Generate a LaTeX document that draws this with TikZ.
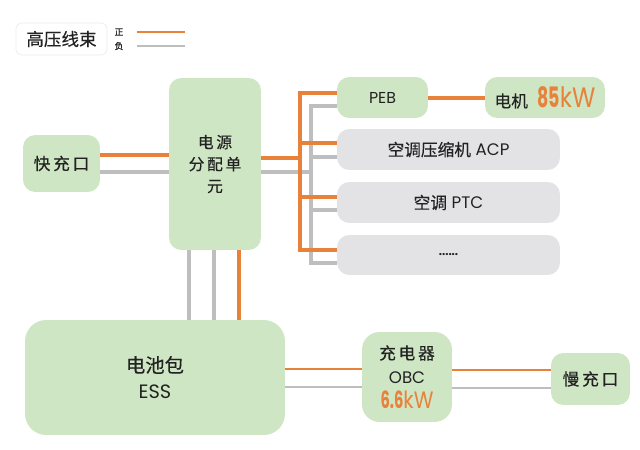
\documentclass[tikz,border=0pt]{standalone}
\usepackage{fontspec}
\usepackage{graphicx}
\setmainfont{Poppins}
\newfontfamily\cjk[FakeBold=0.3]{Noto Sans CJK SC}
\usetikzlibrary{calc}
\definecolor{boxgreen}{HTML}{CFE6C5}
\definecolor{boxgrey}{HTML}{E3E3E5}
\definecolor{wireorange}{HTML}{E8823A}
\definecolor{wiregrey}{HTML}{BEBEC0}
\definecolor{txt}{HTML}{222222}
\newcommand{\zh}[1]{{\cjk #1}}
\newcommand{\power}[3]{{\color{wireorange}\fontsize{#3}{#3}\selectfont\scalebox{0.62}[1]{\bfseries #1}\scalebox{0.85}[1]{#2}}}
\tikzset{
  unit/.style     = {rectangle,rounded corners=7pt,fill=boxgreen,align=center,text=txt,inner sep=0pt,font=\fontsize{9.5}{14}\selectfont},
  load/.style     = {unit,fill=boxgrey},
  legendbox/.style = {rectangle,rounded corners=3pt,draw=gray!15,fill=white,inner sep=0pt,text=txt,font=\fontsize{10}{11}\selectfont},
  poswire/.style  = {wireorange,line width=2.8pt},
  negwire/.style  = {wiregrey,line width=2.3pt},
  posthin/.style  = {wireorange,line width=1.1pt},
  negthin/.style  = {wiregrey,line width=1.1pt},
}

\begin{document}
\begin{tikzpicture}[x=0.02cm,y=-0.02cm]
\useasboundingbox (0,0) rectangle (640,450);

% legend
\node[legendbox,minimum width=1.82cm,minimum height=0.64cm] (legend) at (61.5,39) {\zh{高压线束}};
\node[font=\fontsize{5}{5}\selectfont,text=txt] (plus) at (119,32) {\zh{正}};
\node[font=\fontsize{5}{5}\selectfont,text=txt] (minus) at (119,46) {\zh{负}};
\coordinate (plusend) at (185,32);
\coordinate (minusend) at (185,46);
\draw[wireorange,line width=1.6pt] ([xshift=0.14cm]plus.east) -- (plusend);
\draw[wiregrey,line width=1.6pt] ([xshift=0.14cm]minus.east) -- (minusend);

% units
\node[unit,minimum width=1.54cm,minimum height=1.14cm] (fast) at (61.5,163.5) {\zh{快\,充\,口}};
\node[unit,minimum width=1.84cm,minimum height=3.44cm,font=\fontsize{9}{12.5}\selectfont] (pdu) at (215,164) {\zh{电\,源}\\\zh{分\,配\,单}\\\zh{元}};
\node[unit,minimum width=1.82cm,minimum height=0.82cm,font=\fontsize{9}{11}\selectfont] (peb) at (382.5,97.5) {PEB};
\node[unit,minimum width=2.4cm,minimum height=0.82cm] (motor) at (545,97.5) {\zh{电机}\;\;\power{85}{kW}{16}};
\node[load,minimum width=4.46cm,minimum height=0.82cm] (acp) at (448.5,149.5) {\zh{空调压缩机}\;ACP};
\node[load,minimum width=4.46cm,minimum height=0.82cm] (ptc) at (448.5,202.5) {\zh{空调}\;PTC};
\node[load,minimum width=4.46cm,minimum height=0.8cm,font=\bfseries\fontsize{6.5}{8}\selectfont] (etc) at (448.5,255) {......};
\node[unit,rounded corners=12pt,minimum width=5.2cm,minimum height=2.3cm,font=\fontsize{11}{15}\selectfont] (ess) at (155,377.5) {\zh{电池包}\\ESS};
\node[unit,rounded corners=10pt,minimum width=1.8cm,minimum height=1.8cm,font=\fontsize{9.5}{14}\selectfont] (obc) at (407,377) {\zh{充\,电\,器}\\OBC\\\power{6.6}{kW}{13.5}};
\node[unit,minimum width=1.58cm,minimum height=1.04cm] (slow) at (590.5,379) {\zh{慢\,充\,口}};

% fast charge port -> pdu
\draw[poswire] (fast.east |- 0,155) -- (pdu.west |- 0,155);
\draw[negwire] (fast.east |- 0,172) -- (pdu.west |- 0,172);

% pdu -> loads
\coordinate (gbus) at (311,172);
\coordinate (obus) at (300,158);
\draw[negwire] (pdu.east |- gbus) -- (gbus);
\foreach \load/\yy in {peb/106,acp/157,ptc/210,etc/263}
  \draw[negwire] (gbus) |- (\load.west |- 0,\yy);
\draw[poswire] (pdu.east |- obus) -- (obus);
\foreach \load/\yy in {peb/93,acp/143,ptc/197,etc/250}
  \draw[poswire] (obus) |- (\load.west |- 0,\yy);
\draw[poswire] (peb.east |- 0,98) -- (motor.west |- 0,98);

% pdu -> battery
\draw[negwire] (pdu.south -| 189,0) -- (ess.north -| 189,0);
\draw[negwire] (pdu.south -| 214,0) -- (ess.north -| 214,0);
\draw[poswire] (pdu.south -| 239,0) -- (ess.north -| 239,0);

% battery -> charger -> slow charge port
\draw[posthin] (ess.east |- 0,369) -- (obc.west |- 0,369);
\draw[negthin] (ess.east |- 0,387) -- (obc.west |- 0,387);
\draw[posthin] (obc.east |- 0,370) -- (slow.west |- 0,370);
\draw[negthin] (obc.east |- 0,388) -- (slow.west |- 0,388);
\end{tikzpicture}
\end{document}
